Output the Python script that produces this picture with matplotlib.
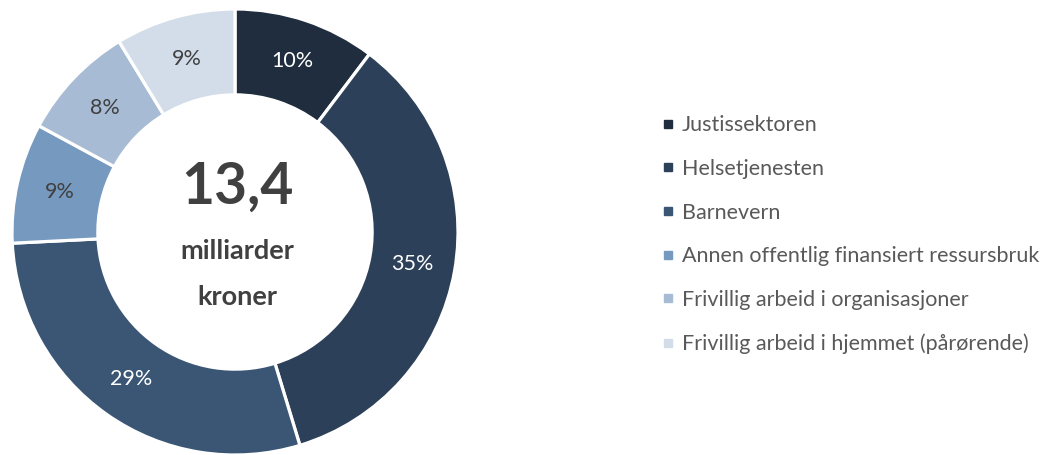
import matplotlib
matplotlib.use("Agg")
import matplotlib.pyplot as plt
from matplotlib.lines import Line2D
import numpy as np

categories = ["Justissektoren", "Helsetjenesten", "Barnevern",
              "Annen offentlig finansiert ressursbruk",
              "Frivillig arbeid i organisasjoner",
              "Frivillig arbeid i hjemmet (pårørende)"]
values = [10.3, 35.0, 28.9, 8.7, 8.4, 8.7]
pct_labels = ["10%", "35%", "29%", "9%", "8%", "9%"]
colors = ["#1f2d3e", "#2c4159", "#3a5674", "#7599bf", "#a7bcd4", "#d3dde9"]
label_colors = ["white", "white", "white", "#404040", "#404040", "#404040"]
total_text = "13,4"
unit_lines = ["milliarder", "kroner"]

plt.rcParams['font.family'] = ['Lato', 'DejaVu Sans']

fig = plt.figure(figsize=(10.63, 4.55), dpi=100)
W, H = 1063, 455
cx, cy, R = 235, 455 - 232, 223
ax = fig.add_axes([(cx - R) / W, (cy - R) / H, 2 * R / W, 2 * R / H])
width = 0.385
wedges, _ = ax.pie(values, colors=colors, startangle=90, counterclock=False,
                   radius=1, wedgeprops=dict(width=width, edgecolor="white", linewidth=2.3))
ax.set_xlim(-1, 1)
ax.set_ylim(-1, 1)
ax.set_aspect("equal")
ax.axis("off")

cum = np.cumsum([0] + values[:-1])
tot = sum(values)
rmid = 1 - width / 2
for v, c0, lab, lc in zip(values, cum, pct_labels, label_colors):
    ang = np.deg2rad(90 - 360 * (c0 + v / 2) / tot)
    ax.text(rmid * np.cos(ang), rmid * np.sin(ang), lab, ha="center", va="center",
            fontsize=15.5, color=lc)

ax.text(0.01, 0.2, total_text, ha="center", va="center", fontsize=41,
        fontweight="bold", color="#404040")
for yy, line in zip([-0.085, -0.29], unit_lines):
    ax.text(0.01, yy, line, ha="center", va="center", fontsize=19.5,
            fontweight="bold", color="#404040")

handles = [Line2D([0], [0], marker="s", linestyle="none", markersize=6,
                  markerfacecolor=c, markeredgecolor=c) for c in colors]
fig.legend(handles, categories, loc="center left", bbox_to_anchor=(642 / W, 0.484),
           frameon=False, fontsize=15.5, labelcolor="#595959", labelspacing=1.1,
           handlelength=0.6, handletextpad=0.35)

fig.savefig("out.png", dpi=100, facecolor="white")
